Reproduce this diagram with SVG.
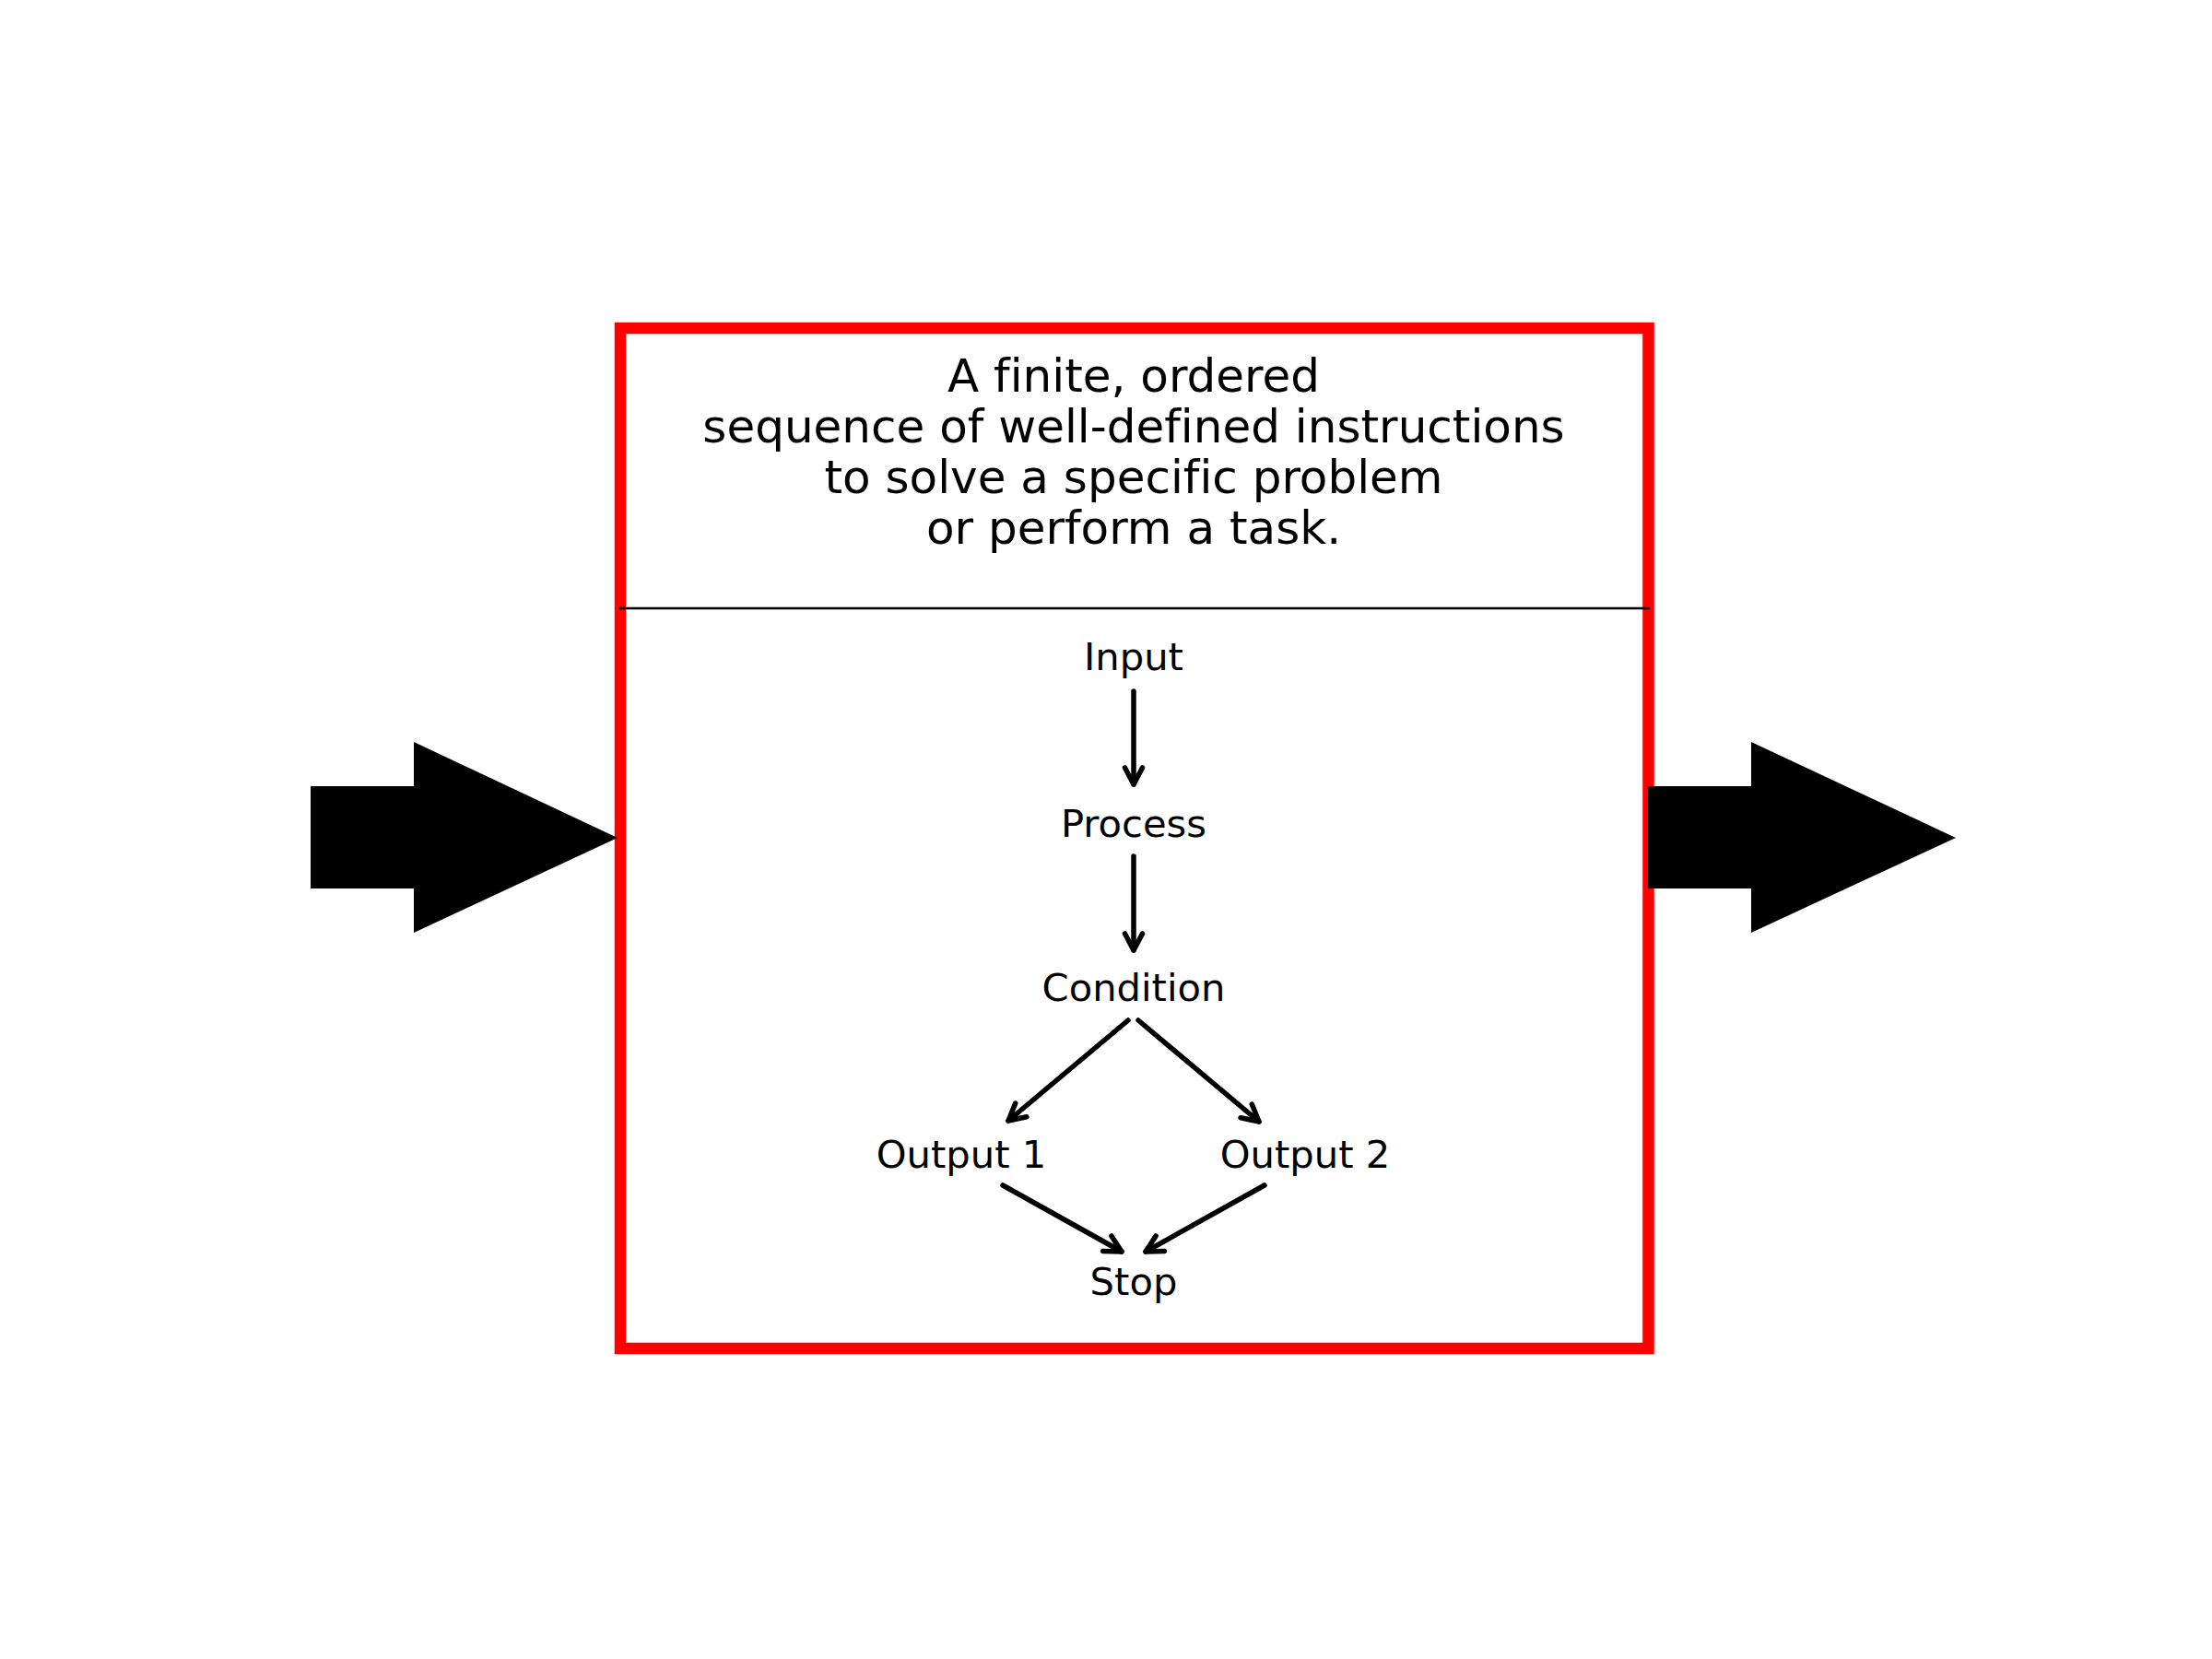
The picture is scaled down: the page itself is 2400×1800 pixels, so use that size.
<svg xmlns="http://www.w3.org/2000/svg" width="2400" height="1800" viewBox="0 0 2400 1800">
<defs>
<style>
.lbl{font-family:"DejaVu Sans","Liberation Sans",sans-serif;font-size:41.7px;fill:#000;text-anchor:middle;font-variant-ligatures:none}
.title{font-family:"DejaVu Sans","Liberation Sans",sans-serif;font-size:50px;fill:#000;text-anchor:middle;font-variant-ligatures:none}
.conn{stroke:#000;stroke-width:5.5;fill:none;stroke-linecap:round;stroke-linejoin:round}
.big{fill:#000;stroke:none}
</style>
<marker id="vhead" markerUnits="userSpaceOnUse" markerWidth="30" markerHeight="30" viewBox="0 0 30 30" refX="22" refY="15" orient="auto">
<path d="M4,5.5 L22,15 L4,24.5" fill="none" stroke="#000" stroke-width="5.5" stroke-linecap="round" stroke-linejoin="round"/>
</marker>
</defs>
<rect width="2400" height="1800" fill="#fff"/>
<g id="algorithm-box">
<rect x="673" y="356" width="1115.5" height="1107" fill="none" stroke="#ff0000" stroke-width="12.5"/>
<line x1="671" y1="660" x2="1790" y2="660" stroke="#000" stroke-width="2.5"/>
<text class="title" x="1230" y="425">A finite, ordered</text>
<text class="title" x="1230" y="480">sequence of well-defined instructions</text>
<text class="title" x="1230" y="535">to solve a specific problem</text>
<text class="title" x="1230" y="590">or perform a task.</text>
</g>
<g id="bigarrows">
<polygon class="big" points="337,853 449,853 449,805 670,909 449,1012 449,964 337,964"/>
<polygon class="big" points="1788,853 1900,853 1900,805 2122,909 1900,1012 1900,964 1788,964"/>
</g>
<g id="node-input"><text class="lbl" x="1230" y="727">Input</text></g>
<g id="node-process"><text class="lbl" x="1230" y="908">Process</text></g>
<g id="node-condition"><text class="lbl" x="1230" y="1086">Condition</text></g>
<g id="node-output1"><text class="lbl" x="1043" y="1267">Output 1</text></g>
<g id="node-output2"><text class="lbl" x="1416" y="1267">Output 2</text></g>
<g id="node-stop"><text class="lbl" x="1230" y="1405">Stop</text></g>
<g id="connectors">
<line class="conn" x1="1230" y1="750" x2="1230" y2="851" marker-end="url(#vhead)"/>
<line class="conn" x1="1230" y1="929" x2="1230" y2="1031" marker-end="url(#vhead)"/>
<line class="conn" x1="1224" y1="1107" x2="1094" y2="1216" marker-end="url(#vhead)"/>
<line class="conn" x1="1235" y1="1107" x2="1366" y2="1217" marker-end="url(#vhead)"/>
<line class="conn" x1="1088" y1="1286" x2="1217" y2="1358" marker-end="url(#vhead)"/>
<line class="conn" x1="1372" y1="1286" x2="1243" y2="1358" marker-end="url(#vhead)"/>
</g>
</svg>
